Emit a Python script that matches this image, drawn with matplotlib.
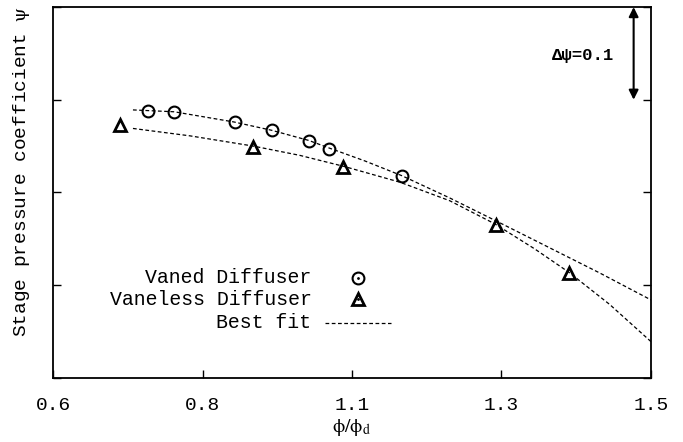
import matplotlib
matplotlib.use("Agg")
import matplotlib.pyplot as plt

plt.rcParams['font.family'] = ['Liberation Mono', 'DejaVu Sans Mono']
plt.rcParams['mathtext.fontset'] = 'stix'
plt.rcParams['mathtext.default'] = 'rm'

# measured points (phi/phi_d, psi)
vaned_x = [0.742, 0.782, 0.873, 0.929, 0.985, 1.015, 1.125]
vaned_y = [0.288, 0.287, 0.276, 0.267, 0.255, 0.247, 0.218]
vaneless_x = [0.700, 0.901, 1.037, 1.266, 1.377]
vaneless_y = [0.273, 0.249, 0.227, 0.165, 0.1135]

# best fit curves
fit_vaned_x = [0.720, 0.782, 0.872, 0.929, 0.985, 1.015, 1.069, 1.125, 1.197, 1.273, 1.348, 1.423, 1.500]
fit_vaned_y = [0.289, 0.287, 0.276, 0.267, 0.256, 0.248, 0.234, 0.218, 0.194, 0.167, 0.140, 0.113, 0.084]
fit_vaneless_x = [0.720, 0.806, 0.901, 0.971, 1.038, 1.122, 1.197, 1.265, 1.325, 1.377, 1.438, 1.500]
fit_vaneless_y = [0.269, 0.261, 0.250, 0.240, 0.228, 0.211, 0.191, 0.166, 0.139, 0.1135, 0.079, 0.039]

xtick_pos = [0.6, 0.825, 1.05, 1.275, 1.5]
xtick_labels = ['0.6', '0.8', '1.1', '1.3', '1.5']
ytick_pos = [0.0, 0.1, 0.2, 0.3, 0.4]

fig = plt.figure(figsize=(6.83, 4.42), dpi=100)
ax = fig.add_axes([0.078, 0.1455, 0.875, 0.8385])

dash = (0, (3, 2))
ax.plot(fit_vaned_x, fit_vaned_y, color='black', lw=0.9, linestyle=dash)
ax.plot(fit_vaneless_x, fit_vaneless_y, color='black', lw=0.9, linestyle=dash)
ax.plot(vaned_x, vaned_y, 'o', ms=8.5, mfc='none', mec='black', mew=1.5)
ax.plot(vaneless_x, vaneless_y, '^', ms=8.5, mfc='none', mec='black', mew=2)

ax.set_xlim(0.6, 1.5)
ax.set_ylim(0.0, 0.4)
ax.set_xticks(xtick_pos)
ax.set_xticklabels(xtick_labels)
ax.set_yticks(ytick_pos)
ax.set_yticklabels([])
ax.tick_params(direction='in', length=6, width=1, labelsize=14, right=True, top=False)
ax.tick_params(axis='x', pad=14)
for s in ax.spines.values():
    s.set_linewidth(1.3)

# key, gnuplot style: text right aligned, symbol to the right
keys = [('Vaned Diffuser', 'o', 0.270), ('Vaneless Diffuser', '^', 0.2115), ('Best fit', None, 0.148)]
for label, mk, yk in keys:
    ax.text(0.432, yk, label, transform=ax.transAxes, ha='right', va='center', fontsize=14.3)
    if mk == 'o':
        ax.plot([0.510], [yk], 'o', ms=8.5, mfc='none', mec='black', mew=1.5, transform=ax.transAxes)
        ax.plot([0.510], [yk], '.', ms=2, color='black', transform=ax.transAxes)
    elif mk == '^':
        ax.plot([0.510], [yk], '^', ms=8.5, mfc='none', mec='black', mew=2, transform=ax.transAxes)
        ax.plot([0.510], [yk], '.', ms=2, color='black', transform=ax.transAxes)
    else:
        ax.plot([0.455, 0.565], [yk, yk], color='black', lw=0.9, linestyle=dash, transform=ax.transAxes)

# scale arrow
ax.annotate('', xy=(1.474, 0.4), xytext=(1.474, 0.3),
            arrowprops=dict(arrowstyle='<|-|>', color='black', lw=1.5, mutation_scale=14,
                            shrinkA=0, shrinkB=0))
ax.text(1.444, 0.348, 'Δψ=0.1', ha='right', va='center', fontsize=12.5, fontweight='bold')

fig.text(0.032, 0.613, 'Stage pressure coefficient $\\psi$', rotation=90, ha='center', va='center', fontsize=14)
fig.text(0.515, 0.032, '$\\phi/\\phi_\\mathrm{d}$', ha='center', va='center', fontsize=14)

fig.savefig('out.png', dpi=100)
